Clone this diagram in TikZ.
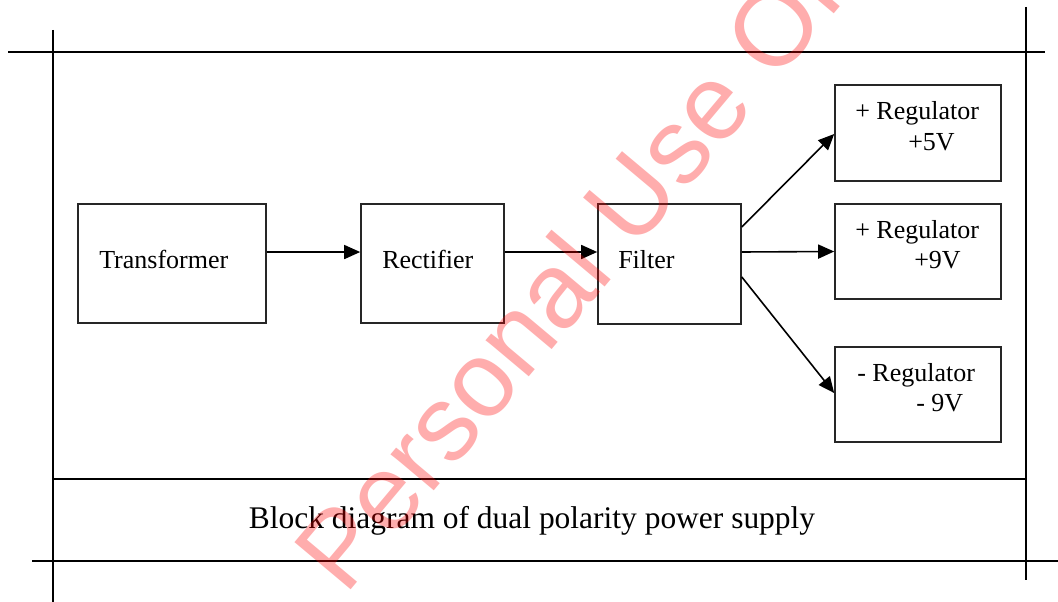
\documentclass[tikz,border=0pt]{standalone}
\usepackage{fontspec}
\setmainfont{Liberation Serif}
\newfontfamily\wmfont{Liberation Sans}
\usetikzlibrary{arrows.meta}
\begin{document}
\begin{tikzpicture}[x=0.75pt,y=-0.75pt,
  frame/.style={line width=2pt,black},
  blk/.style={draw=black!85,line width=1.2pt,rectangle,inner sep=0pt},
  lbl/.style={font=\fontsize{19.5}{23}\selectfont,inner sep=0pt,anchor=base west},
  arr/.style={line width=1.2pt,-{Triangle[length=12pt,width=10.5pt]}},
  wm/.style={text=red,opacity=0.32,font=\wmfont\fontsize{80}{96}\selectfont,inner sep=0pt}]
\useasboundingbox (0,0) rectangle (1058,602);
% frame lines
\draw[frame] (8,52) -- (1045,52);
\draw[frame] (53,30) -- (53,602);
\draw[frame] (1026,7) -- (1026,580);
\draw[frame] (53,479) -- (1026,479);
\draw[frame] (32,561) -- (1058,561);
% blocks
\node[blk,minimum width=141pt,minimum height=89.25pt] (tr) at (172,263.5) {};
\node[blk,minimum width=107.25pt,minimum height=89.25pt] (re) at (432.5,263.5) {};
\node[blk,minimum width=107.25pt,minimum height=90pt] (fi) at (669.5,264) {};
\node[blk,minimum width=124.5pt,minimum height=72pt] (r5) at (918,133) {};
\node[blk,minimum width=124.5pt,minimum height=71.25pt] (r9) at (918,251.5) {};
\node[blk,minimum width=124.5pt,minimum height=71.25pt] (rm) at (918,394.5) {};
% labels
\node[lbl] (trt) at (99,269) {Transformer};
\node[lbl] (ret) at (382,269) {Rectifier};
\node[lbl] (fit) at (618,269) {Filter};
\node[lbl] (r5a) at (855,120) {+ Regulator};
\node[lbl] (r5b) at (908,151) {+5V};
\node[lbl] (r9a) at (855,239) {+ Regulator};
\node[lbl] (r9b) at (914,269) {+9V};
\node[lbl] (rma) at (857,382) {- Regulator};
\node[lbl] (rmb) at (916,412) {- 9V};
\node[font=\fontsize{23.6}{28}\selectfont,inner sep=0pt,anchor=base] (cap) at (532,528) {Block diagram of dual polarity power supply};
% connectors
\draw[arr] ([yshift=8.6pt]tr.east) -- ([yshift=8.6pt]re.west);
\draw[arr] ([yshift=8.6pt]re.east) -- ([yshift=9pt]fi.west);
\draw[arr] ([yshift=9pt]fi.east) -- (r9.west);
\draw[arr] ([yshift=27.75pt]fi.east) -- ([yshift=-0.75pt]r5.west);
\draw[arr] ([yshift=-9.75pt]fi.east) -- ([yshift=1.1pt]rm.west);
% watermark
\begin{scope}
\clip (0,0) rectangle (1058,602);
\node[wm,rotate=50] (mark) at (610,238) {Personal Use Only};
\end{scope}
\end{tikzpicture}
\end{document}
